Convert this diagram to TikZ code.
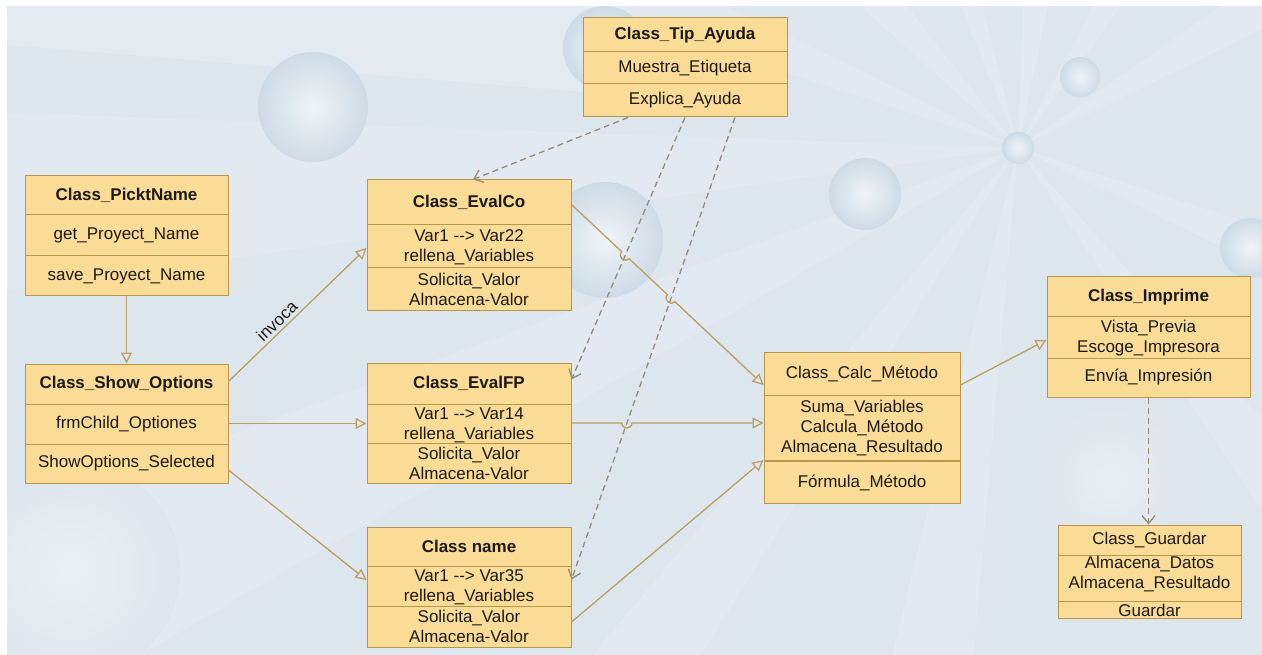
\documentclass[tikz,border=0pt]{standalone}
\usepackage{fontspec}
\setmainfont{Liberation Sans}
\usetikzlibrary{arrows.meta,calc,intersections}
\definecolor{bg}{RGB}{221,229,237}
\definecolor{boxfill}{RGB}{250,220,150}
\definecolor{boxline}{RGB}{184,150,76}
\definecolor{conn}{RGB}{186,160,100}
\definecolor{dashc}{RGB}{150,140,120}
\definecolor{txt}{RGB}{30,25,20}
\definecolor{sph}{RGB}{206,219,229}
\definecolor{sphin}{RGB}{240,244,248}
\begin{document}
\begin{tikzpicture}[x=1pt,y=-1pt,
 cls/.style={draw=boxline, fill=boxfill, line width=1pt, inner sep=0pt},
 sep/.style={draw=boxline, line width=1pt},
 hdr/.style={font=\fontsize{17}{20}\selectfont\bfseries, text=txt, inner sep=0pt, align=center},
 row/.style={font=\fontsize{17}{20}\selectfont, text=txt, inner sep=0pt, align=center},
 assoc/.style={draw=conn, line width=1.3pt, -{Triangle[open,length=11pt,width=11pt]}},
 dep/.style={draw=dashc, line width=1.3pt, dash pattern=on 6pt off 4pt, -{Straight Barb[length=8pt,width=13pt]}},
 hop/.style={bend right=90, looseness=1.7},
 ray/.style={fill=white, opacity=0.17},
 sphere/.style={inner color=sphin, outer color=sph},
]
\useasboundingbox (0,0) rectangle (1262,655);
\fill[white] (0,0) rectangle (1262,655);
% background
\begin{scope}
\clip (7,6) rectangle (1262,655);
\fill[bg] (7,6) rectangle (1262,655);
\fill[white,opacity=0.2] (7,6) -- (620,6) -- (620,95) -- (7,45) -- cycle;
\foreach \a/\b in {150/160,172/182,198/206,222/232,248/256,272/282,298/306,325/334,18/26,48/56,95/104,122/130}{
  \fill[ray] (1018,148) -- +(\a:1500) -- +(\b:1500) -- cycle;
}
\shade[sphere] (313,107) circle (55pt);
\shade[sphere] (605,48) circle (42pt);
\shade[sphere] (605,240) circle (58pt);
\shade[sphere] (865,194) circle (36pt);
\shade[sphere] (1080,77) circle (20pt);
\shade[sphere] (1018,148) circle (16pt);
\shade[sphere] (1250,248) circle (30pt);
\shade[inner color=sphin, outer color=bg, opacity=0.7] (70,570) circle (110pt);
\shade[inner color=sphin, outer color=bg, opacity=0.7] (1110,480) circle (80pt);
\end{scope}

% class boxes
\node[cls, minimum width=203pt, minimum height=120pt] (pick) at (126.5,236) {};
\node[cls, minimum width=203pt, minimum height=119pt] (show) at (126.5,423.5) {};
\node[cls, minimum width=204pt, minimum height=131pt] (evco) at (469,245.5) {};
\node[cls, minimum width=204pt, minimum height=120pt] (evfp) at (469,423) {};
\node[cls, minimum width=204pt, minimum height=120pt] (cname) at (469,587) {};
\node[cls, minimum width=204pt, minimum height=99pt] (tip) at (685,67.5) {};
\node[cls, minimum width=196pt, minimum height=151pt] (calc) at (862,427.5) {};
\node[cls, minimum width=203pt, minimum height=120pt] (impr) at (1148.5,337) {};
\node[cls, minimum width=183pt, minimum height=93pt] (guard) at (1149.5,571.5) {};

% compartment separators
\draw[sep] (pick.west |- 0,215) -- (pick.east |- 0,215);
\draw[sep] (pick.west |- 0,256) -- (pick.east |- 0,256);
\draw[sep] (show.west |- 0,404) -- (show.east |- 0,404);
\draw[sep] (show.west |- 0,444) -- (show.east |- 0,444);
\draw[sep] (evco.west |- 0,225) -- (evco.east |- 0,225);
\draw[sep] (evco.west |- 0,268) -- (evco.east |- 0,268);
\draw[sep] (evfp.west |- 0,404) -- (evfp.east |- 0,404);
\draw[sep] (evfp.west |- 0,443) -- (evfp.east |- 0,443);
\draw[sep] (cname.west |- 0,566) -- (cname.east |- 0,566);
\draw[sep] (cname.west |- 0,606) -- (cname.east |- 0,606);
\draw[sep] (tip.west |- 0,52) -- (tip.east |- 0,52);
\draw[sep] (tip.west |- 0,84) -- (tip.east |- 0,84);
\draw[sep] (calc.west |- 0,395) -- (calc.east |- 0,395);
\draw[sep, line width=1.5pt] (calc.west |- 0,461) -- (calc.east |- 0,461);
\draw[sep] (impr.west |- 0,317) -- (impr.east |- 0,317);
\draw[sep] (impr.west |- 0,358) -- (impr.east |- 0,358);
\draw[sep] (guard.west |- 0,555) -- (guard.east |- 0,555);
\draw[sep] (guard.west |- 0,601) -- (guard.east |- 0,601);

% texts
\node[hdr] (pick-h) at (126.5,195.5) {Class\_PicktName};
\node[row] (pick-1) at (126.5,235.5) {get\_Proyect\_Name};
\node[row] (pick-2) at (126.5,276) {save\_Proyect\_Name};
\node[hdr] (show-h) at (126.5,384) {Class\_Show\_Options};
\node[row] (show-1) at (126.5,424) {frmChild\_Optiones};
\node[row] (show-2) at (126.5,463.5) {ShowOptions\_Selected};
\node[hdr] (evco-h) at (469,202.5) {Class\_EvalCo};
\node[row] (evco-1) at (469,247) {Var1 {-}{-}> Var22\\rellena\_Variables};
\node[row] (evco-2) at (469,289.5) {Solicita\_Valor\\Almacena-Valor};
\node[hdr] (evfp-h) at (469,383.5) {Class\_EvalFP};
\node[row] (evfp-1) at (469,425) {Var1 {-}{-}> Var14\\rellena\_Variables};
\node[row] (evfp-2) at (469,463.5) {Solicita\_Valor\\Almacena-Valor};
\node[hdr] (cname-h) at (469,546.5) {Class name};
\node[row] (cname-1) at (469,587) {Var1 {-}{-}> Var35\\rellena\_Variables};
\node[row] (cname-2) at (469,626) {Solicita\_Valor\\Almacena-Valor};
\node[hdr] (tip-h) at (685,35) {Class\_Tip\_Ayuda};
\node[row] (tip-1) at (685,68) {Muestra\_Etiqueta};
\node[row] (tip-2) at (685,100.5) {Explica\_Ayuda};
\node[row] (calc-h) at (862,373.5) {Class\_Calc\_Método};
\node[row] (calc-1) at (862,428) {Suma\_Variables\\Calcula\_Método\\Almacena\_Resultado};
\node[row] (calc-2) at (862,483) {Fórmula\_Método};
\node[hdr] (impr-h) at (1148.5,297) {Class\_Imprime};
\node[row] (impr-1) at (1148.5,338) {Vista\_Previa\\Escoge\_Impresora};
\node[row] (impr-2) at (1148.5,377.5) {Envía\_Impresión};
\node[row] (guard-h) at (1149.5,540) {Class\_Guardar};
\node[row] (guard-1) at (1149.5,574) {Almacena\_Datos\\Almacena\_Resultado};
\node[row] (guard-2) at (1149.5,610) {Guardar};

% connector end points
\coordinate (A5) at ([yshift=-25pt]evco.north east);
\coordinate (B5) at ([yshift=42.5pt]calc.west);
\coordinate (A6) at (evfp.east);
\coordinate (B6) at (evfp.east -| calc.west);
\coordinate (A10) at (tip.south);
\coordinate (B10) at ([yshift=-17pt]evfp.north east);
\coordinate (A11) at ([xshift=50pt]tip.south);
\coordinate (B11) at ([yshift=-53pt]cname.north east);

\path[name path=s5] (A5) -- (B5);
\path[name path=s6] (A6) -- (B6);
\path[name path=d10] (A10) -- (B10);
\path[name path=d11] (A11) -- (B11);
\path[name intersections={of=s5 and d10, by=h1}];
\path[name intersections={of=s5 and d11, by=h2}];
\path[name intersections={of=s6 and d11, by=h3}];

% dashed dependencies
\draw[dep] ([xshift=-57pt]tip.south) -- ([xshift=4pt]evco.north);
\draw[dep] (A10) -- (B10);
\draw[dep] (A11) -- (B11);
\draw[dep] (impr.south) -- (impr.south |- guard.north);

% solid connectors
\draw[assoc] (pick) -- (show);
\draw[assoc] ([yshift=-18pt]show.north east) -- node[pos=0.4, sloped, above=3pt, row, text=txt] (lbl) {invoca} ([yshift=-2.5pt]evco.west);
\draw[assoc] (show.east) -- (show.east -| evfp.west);
\draw[assoc] ([yshift=-46.5pt]show.east) -- ([yshift=7pt]cname.west);
\draw[assoc] (A5) -- ($(h1)!5pt!(A5)$) to[hop] ($(h1)!5pt!(B5)$) -- ($(h2)!5pt!(A5)$) to[hop] ($(h2)!5pt!(B5)$) -- (B5);
\draw[assoc] (A6) -- ($(h3)!5pt!(A6)$) to[hop] ($(h3)!5pt!(B6)$) -- (B6);
\draw[assoc] ([yshift=-35pt]cname.east) -- ([yshift=-32.5pt]calc.west);
\draw[assoc] ([yshift=42.5pt]calc.east) -- ([yshift=-3pt]impr.west);
\end{tikzpicture}
\end{document}
